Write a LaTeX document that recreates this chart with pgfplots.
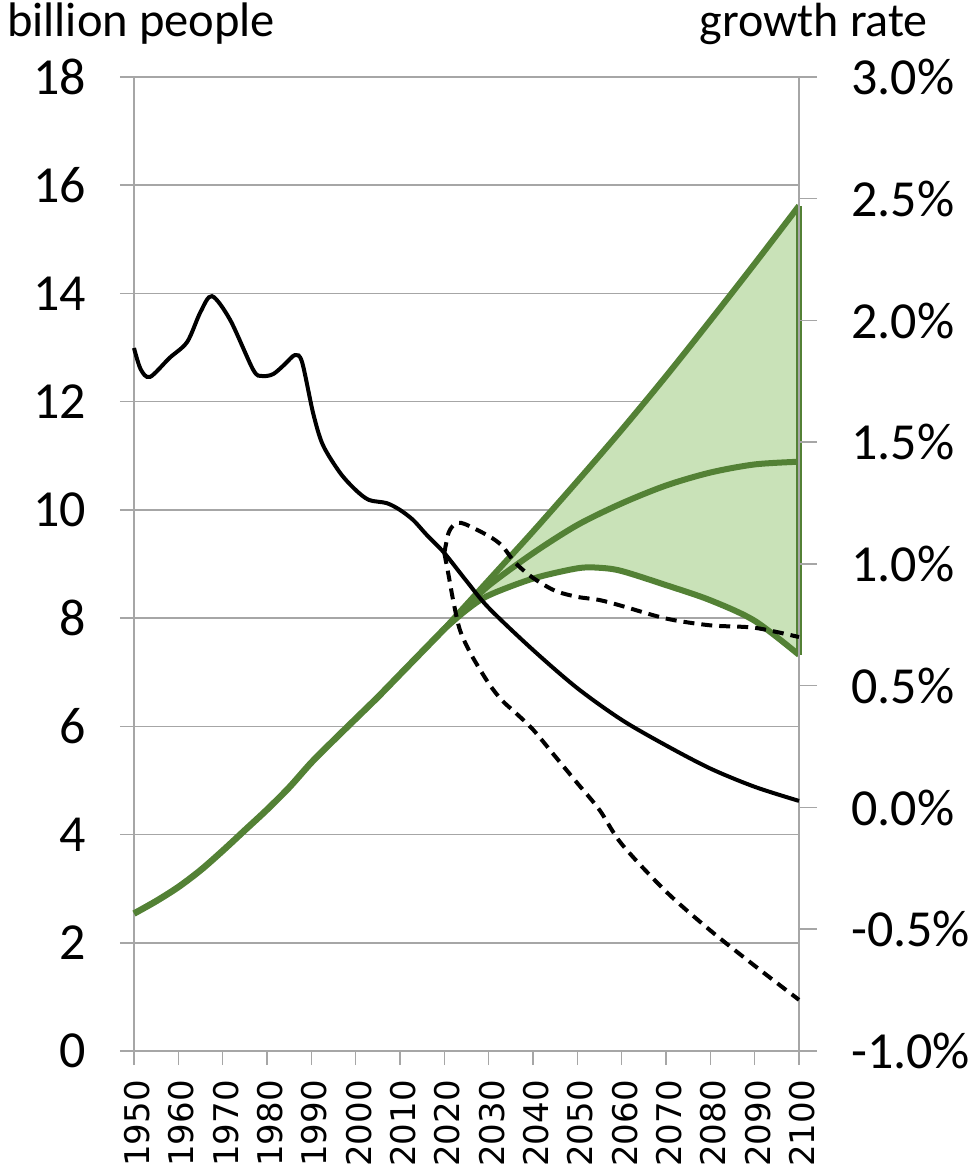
\documentclass[border=0pt]{standalone}
\usepackage{fontspec}
\setmainfont{Carlito}
\newfontfamily\dejavu{DejaVu Sans}
\usepackage{pgfplots}
\pgfplotsset{compat=1.18}
\definecolor{gline}{HTML}{538135}
\definecolor{gfill}{HTML}{C9E2B8}
\definecolor{gridgray}{HTML}{A6A6A6}
\begin{document}
\begin{tikzpicture}
\useasboundingbox (-134pt,-116pt) rectangle (839pt,1051pt);
\begin{axis}[
  at={(0pt,0pt)}, anchor=south west,
  scale only axis, width=665pt, height=974pt,
  xmin=1950, xmax=2100, ymin=0, ymax=18,
  clip=false,
  axis y line*=left, axis x line*=bottom,
  axis line style={gridgray, line width=1.5pt, -},
  tick style={gridgray, line width=1.5pt},
  tick align=outside, major tick length=14pt,
  xtick={1950,1960,1970,1980,1990,2000,2010,2020,2030,2040,2050,2060,2070,2080,2090,2100},
  xticklabels={1950,1960,1970,1980,1990,2000,2010,2020,2030,2040,2050,2060,2070,2080,2090,2100},
  xticklabel style={yshift=-15pt, xshift=3pt, rotate=90, anchor=east, inner sep=0pt, font=\dejavu\fontsize{34}{34}\selectfont},
  ytick={0,2,4,6,8,10,12,14,16,18},
  yticklabels={0,2,4,6,8,10,12,14,16,18},
  yticklabel style={anchor=east, inner sep=0pt, font=\fontsize{52}{52}\selectfont, xshift=-34pt},
  ymajorgrids, grid style={gridgray, line width=1.5pt},
]
% shaded band between high and low projections
\addplot[fill=gfill, draw=none] coordinates {(2020,7.80)(2030,8.70)(2040,9.60)(2050,10.53)(2060,11.48)(2070,12.47)(2080,13.50)(2090,14.55)(2100,15.62)(2100,7.32)(2090,7.95)(2080,8.33)(2070,8.61)(2060,8.86)(2050,8.91)(2040,8.73)(2030,8.42)(2025,8.15)(2020,7.80)} -- cycle;
\addplot[gline, line width=6.5pt, smooth] coordinates {(1950,2.54)(1955,2.77)(1960,3.03)(1965,3.34)(1970,3.70)(1975,4.08)(1980,4.46)(1985,4.87)(1990,5.33)(1995,5.74)(2000,6.14)(2005,6.54)(2010,6.96)(2015,7.38)(2020,7.80)};
\addplot[gline, line width=6pt, smooth] coordinates {(2020,7.80)(2030,8.70)(2040,9.60)(2050,10.53)(2060,11.48)(2070,12.47)(2080,13.50)(2090,14.55)(2100,15.62)};
\addplot[gline, line width=6pt, smooth] coordinates {(2020,7.80)(2025,8.20)(2030,8.60)(2040,9.20)(2050,9.72)(2060,10.12)(2070,10.45)(2080,10.69)(2090,10.84)(2100,10.89)};
\addplot[gline, line width=6pt, smooth] coordinates {(2020,7.80)(2025,8.15)(2030,8.42)(2040,8.73)(2050,8.92)(2055,8.93)(2060,8.87)(2070,8.61)(2080,8.33)(2090,7.95)(2100,7.32)};
\addplot[gline, line width=6pt] coordinates {(2100,7.32)(2100,15.62)};
\node[anchor=base west, inner sep=0pt, font=\fontsize{48.5}{48.5}\selectfont] at (rel axis cs:0,1) [xshift=-127pt, yshift=40pt] {billion people};
\node[anchor=base east, inner sep=0pt, font=\fontsize{48}{48}\selectfont] at (rel axis cs:1,1) [xshift=129pt, yshift=40pt] {growth rate};
\end{axis}
\begin{axis}[
  at={(0pt,0pt)}, anchor=south west,
  scale only axis, width=665pt, height=974pt,
  xmin=1950, xmax=2100, ymin=-1, ymax=3,
  clip=false,
  axis y line*=right, axis x line=none,
  axis line style={gridgray, line width=1.5pt, -},
  tick style={gridgray, line width=1.5pt},
  tick align=outside, major tick length=18pt,
  ytick={-1,-0.5,0,0.5,1,1.5,2,2.5,3},
  yticklabels={-1.0\%,-0.5\%,0.0\%,0.5\%,1.0\%,1.5\%,2.0\%,2.5\%,3.0\%},
  yticklabel style={anchor=west, inner sep=0pt, font=\fontsize{52}{52}\selectfont, xshift=34pt},
]
\addplot[black, line width=4pt, smooth] coordinates {(1950,1.887)(1951.5,1.80)(1953.6,1.768)(1958,1.846)(1962,1.912)(1965,2.035)(1967.6,2.10)(1971.7,2.002)(1976.9,1.797)(1978.9,1.772)(1981.4,1.78)(1984,1.82)(1986.3,1.858)(1987.9,1.83)(1990.4,1.62)(1992.6,1.489)(1996.5,1.374)(2000,1.304)(2003,1.263)(2007,1.25)(2010,1.222)(2013,1.18)(2016,1.12)(2020,1.045)(2025,0.93)(2030,0.82)(2040,0.647)(2050,0.49)(2060,0.36)(2070,0.255)(2080,0.16)(2090,0.085)(2100,0.027)};
\addplot[black, line width=4pt, dash pattern=on 11pt off 7pt, smooth] coordinates {(2020,1.045)(2021,1.13)(2022.5,1.165)(2024.5,1.165)(2030,1.115)(2033,1.075)(2036,1.005)(2040,0.943)(2045,0.89)(2050,0.865)(2055,0.852)(2060,0.828)(2070,0.776)(2080,0.748)(2090,0.738)(2100,0.70)};
\addplot[black, line width=4pt, dash pattern=on 11pt off 7pt, smooth] coordinates {(2020,1.045)(2021,0.95)(2022,0.85)(2023.5,0.73)(2026,0.63)(2030,0.51)(2033,0.44)(2036,0.39)(2040,0.32)(2045,0.21)(2050,0.10)(2055,-0.01)(2060,-0.15)(2070,-0.345)(2080,-0.505)(2090,-0.65)(2100,-0.79)};
\end{axis}
\end{tikzpicture}
\end{document}
